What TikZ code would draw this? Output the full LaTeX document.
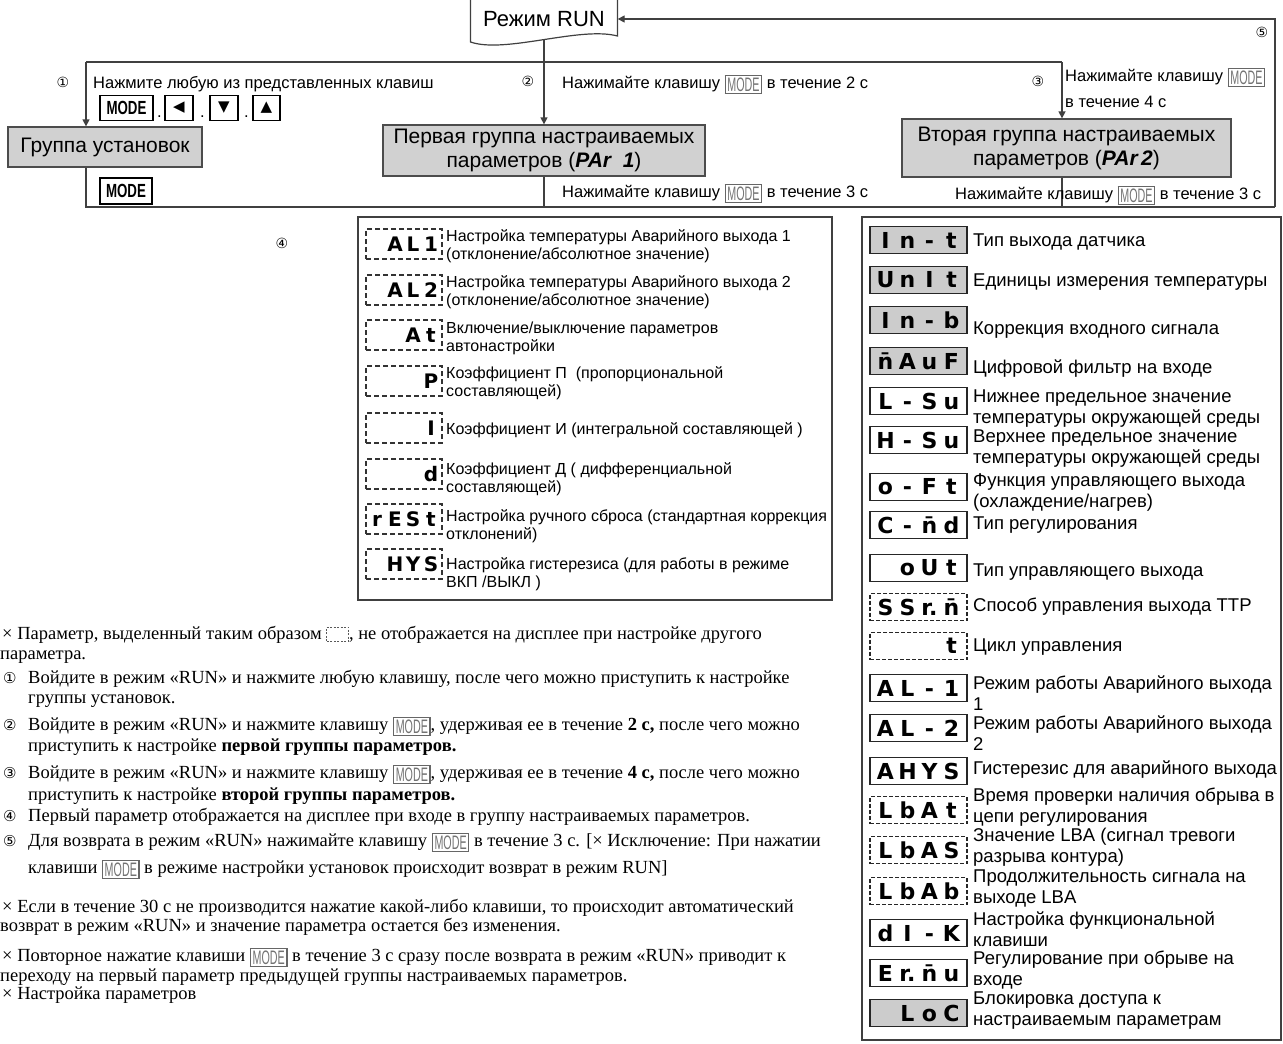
\documentclass[tikz,border=0pt]{standalone}
\usepackage{fontspec}
\usepackage{graphicx}
\usetikzlibrary{arrows.meta}
\setmainfont{Liberation Serif}
\setsansfont{Liberation Sans}
\newfontfamily\dvs{DejaVu Sans}
\newcommand\mkey{\raisebox{-3pt}{\setlength\fboxrule{1.2pt}\setlength\fboxsep{1.5pt}\fcolorbox{black!60}{white}{\sffamily\fontsize{19.5}{19.5}\selectfont\color{black!55}\scalebox{0.55}[1]{MODE}}}}
\newcommand\cnum[1]{{\dvs\fontsize{15}{15}\selectfont #1}}
\newcommand\segR[4]{{\dvs\bfseries\fontsize{22}{22}\selectfont\makebox[22pt]{#1}\makebox[22pt]{#2}\makebox[22pt]{#3}\makebox[22pt]{#4}}}
\newcommand\segL[4]{{\dvs\bfseries\fontsize{20}{20}\selectfont\makebox[18pt]{#1}\makebox[18pt]{#2}\makebox[18pt]{#3}\makebox[18pt]{#4}}}
\newcommand\dbox{\tikz[x=1pt,y=1pt,baseline=0pt]\draw[black!65,line width=0.8pt,dash pattern=on 2pt off 1.5pt](0,-2)rectangle(22,12);}
\newcommand\hang[1]{\makebox[25pt][l]{\cnum{#1}}}
\begin{document}
\begin{tikzpicture}[x=1pt,y=-1pt,
  grp/.style={draw=black!70,line width=1.3pt,fill=black!18,font=\sffamily\fontsize{21}{24}\selectfont,align=center,inner sep=0pt},
  conn/.style={draw=black!75,line width=1.4pt},
  arr/.style={conn,-{Triangle[length=7pt,width=7pt]}},
  lbl/.style={font=\sffamily\fontsize{16.5}{19}\selectfont,inner sep=0pt,anchor=base west},
  num/.style={font=\dvs\fontsize{14}{14}\selectfont,inner sep=0pt},
  keyb/.style={draw=black,line width=1.4pt,minimum height=25pt,inner sep=0pt,fill=white},
  dispR/.style={draw=black!85,line width=1.6pt,minimum width=97pt,minimum height=27pt,inner sep=0pt,fill=white},
  dispRg/.style={dispR,fill=black!20},
  dispRd/.style={dispR,line width=1.1pt,dash pattern=on 4pt off 2pt},
  dispL/.style={draw=black!80,line width=1.1pt,dash pattern=on 5pt off 3pt,minimum width=76pt,minimum height=30pt,inner sep=0pt},
  rtxt/.style={font=\sffamily\fontsize{18.5}{21}\selectfont,inner sep=0pt,anchor=west,align=left},
  ltxt/.style={font=\sffamily\fontsize{16}{18}\selectfont,inner sep=0pt,anchor=west,align=left},
  btxt/.style={font=\rmfamily\fontsize{18.5}{20}\selectfont,inner sep=0pt,anchor=base west},
  panel/.style={draw=black!75,line width=1.3pt,inner sep=0pt}
]
\useasboundingbox (0,0) rectangle (1283,1044);
\fill[white] (0,0) rectangle (1283,1044);

% ---------- top flow ----------
\node[inner sep=0pt,minimum width=147pt,minimum height=40pt,font=\sffamily\fontsize{22}{24}\selectfont] (run) at (544,19) {Режим RUN};
\draw[black!75,line width=1.2pt] (470.5,0) -- (470.5,42) .. controls (505,54) and (580,26) .. (617.5,36) -- (617.5,0);

\node[grp,minimum width=194pt,minimum height=40pt] (g) at (105,147) {Группа установок};
\node[grp,minimum width=322pt,minimum height=51pt] (p1) at (544,150.5) {Первая группа настраиваемых\\параметров (\textit{\textbf{PAr\ \ 1}})};
\node[grp,minimum width=329pt,minimum height=58pt] (p2) at (1066.5,148) {Вторая группа настраиваемых\\параметров (\textit{\textbf{PAr\,2}})};

\coordinate (tl) at (86,62);
\coordinate (tr) at (1062,62);
\coordinate (rb) at (1275,207);
\coordinate (rt) at (1275,19);

\draw[conn] (tl) -- (tr);
\draw[arr] (tl) -- (tl |- g.north);
\draw[arr] (tr) -- (tr |- p2.north);
\draw[arr] (run.south) -- (p1.north);
\draw[conn] (tl |- g.south) -- (tl |- rb) -- (rb);
\draw[conn] (p1.south) -- (p1.south |- rb);
\draw[conn] (tr |- p2.south) -- (tr |- rb);
\draw[arr] (rb) -- (rt) -- (run.east);

% labels
\node[num] (n1) at (63,82) {①};
\node[num] (n2) at (528,81) {②};
\node[num] (n3) at (1038,81) {③};
\node[num] (n5) at (1262,32) {⑤};

\node[lbl] (a1) at (93,88) {Нажмите любую из представленных клавиш};
\node[keyb,minimum width=53pt] (km) at (126.5,108) {\sffamily\bfseries\fontsize{19}{19}\selectfont\scalebox{0.7}[1]{MODE}};
\node[lbl] (d1) at (157,117) {.};
\node[keyb,minimum width=28pt] (kl) at (179,108) {\dvs\fontsize{15}{15}\selectfont ◀};
\node[lbl] (d2) at (200,117) {.};
\node[keyb,minimum width=28pt] (kd) at (224,108) {\dvs\fontsize{15}{15}\selectfont ▼};
\node[lbl] (d3) at (244,117) {.};
\node[keyb,minimum width=27pt] (ku) at (266.5,108) {\dvs\fontsize{15}{15}\selectfont ▲};
\node[keyb,minimum width=52pt,minimum height=26pt] (kmb) at (126,191) {\sffamily\bfseries\fontsize{19}{19}\selectfont\scalebox{0.7}[1]{MODE}};

\node[lbl] (a2) at (562,88) {Нажимайте клавишу \mkey\ в течение 2 с};
\node[lbl] (a3) at (562,197) {Нажимайте клавишу \mkey\ в течение 3 с};
\node[lbl] (a4) at (1065,81) {Нажимайте клавишу \mkey};
\node[lbl] (a5) at (1065,107) {в течение 4 с};
\node[lbl] (a6) at (955,199) {Нажимайте клавишу \mkey\ в течение 3 с};

% ---------- left panel (4) ----------
\node[num] (n4) at (282,243) {④};
\node[panel,minimum width=474pt,minimum height=383pt] (lp) at (595,408.5) {};
\begin{scope}
\clip (358,217) rectangle (832,600);
\node[dispL] (l1) at (404,244) {\segL{}{A}{L}{1}};
\node[ltxt] (lt1) at (446,246) {Настройка температуры Аварийного выхода 1\\(отклонение/абсолютное значение)};
\node[dispL] (l2) at (404,290) {\segL{}{A}{L}{2}};
\node[ltxt] (lt2) at (446,292) {Настройка температуры Аварийного выхода 2\\(отклонение/абсолютное значение)};
\node[dispL] (l3) at (404,335) {\segL{}{}{A}{t}};
\node[ltxt] (lt3) at (446,338.5) {Включение/выключение параметров\\автонастройки};
\node[dispL] (l4) at (404,381) {\segL{}{}{}{P}};
\node[ltxt] (lt4) at (446,383.5) {Коэффициент П\ \ (пропорциональной\\составляющей)};
\node[dispL] (l5) at (404,428) {\segL{}{}{}{I}};
\node[ltxt] (lt5) at (446,430) {Коэффициент И (интегральной составляющей )};
\node[dispL] (l6) at (404,474) {\segL{}{}{}{d}};
\node[ltxt] (lt6) at (446,479) {Коэффициент Д ( дифференциальной\\составляющей)};
\node[dispL] (l7) at (404,519) {\segL{r}{E}{S}{t}};
\node[ltxt] (lt7) at (446,526) {Настройка ручного сброса (стандартная коррекция\\отклонений)};
\node[dispL] (l8) at (404,564) {\segL{}{H}{Y}{S}};
\node[ltxt] (lt8) at (446,574) {Настройка гистерезиса (для работы в режиме\\ВКП /ВЫКЛ )};
\end{scope}

% ---------- right panel ----------
\node[panel,minimum width=419pt,minimum height=823pt] (rp) at (1071.5,628.5) {};
\node[dispRg] (r1) at (918.5,240) {\segR{I}{n}{-}{t}};
\node[rtxt] at (973,242) {Тип выхода датчика};
\node[dispRg] (r2) at (918.5,280) {\segR{U}{n}{I}{t}};
\node[rtxt] at (973,282) {Единицы измерения температуры};
\node[dispRg] (r3) at (918.5,320) {\segR{I}{n}{-}{b}};
\node[rtxt] at (973,330) {Коррекция входного сигнала};
\node[dispRg] (r4) at (918.5,361) {\segR{n̄}{A}{u}{F}};
\node[rtxt] at (973,369) {Цифровой фильтр на входе};
\node[dispR] (r5) at (918.5,401) {\segR{L}{-}{S}{u}};
\node[rtxt] at (973,408.5) {Нижнее предельное значение\\температуры окружающей среды};
\node[dispR] (r6) at (918.5,440) {\segR{H}{-}{S}{u}};
\node[rtxt] at (973,448.5) {Верхнее предельное значение\\температуры окружающей среды};
\node[dispR] (r7) at (918.5,487) {\segR{o}{-}{F}{t}};
\node[rtxt] at (973,493) {Функция управляющего выхода\\(охлаждение/нагрев)};
\node[dispR] (r8) at (918.5,525) {\segR{C}{-}{n̄}{d}};
\node[rtxt] at (973,525) {Тип регулирования};
\node[dispR] (r9) at (918.5,568) {\segR{}{o}{U}{t}};
\node[rtxt] at (973,572) {Тип управляющего выхода};
\node[dispRd] (r10) at (918.5,607) {\segR{S}{S}{r.}{n̄}};
\node[rtxt] at (973,607) {Способ управления выхода ТТР};
\node[dispRd] (r11) at (918.5,646) {\segR{}{}{}{t}};
\node[rtxt] at (973,647) {Цикл управления};
\node[dispR] (r12) at (918.5,688) {\segR{A}{L}{-}{1}};
\node[rtxt] at (973,693.5) {Режим работы Аварийного выхода\\1};
\node[dispR] (r13) at (918.5,728) {\segR{A}{L}{-}{2}};
\node[rtxt] at (973,733.5) {Режим работы Аварийного выхода\\2};
\node[dispR] (r14) at (918.5,771) {\segR{A}{H}{Y}{S}};
\node[rtxt] at (973,770) {Гистерезис для аварийного выхода};
\node[dispRd] (r15) at (918.5,810) {\segR{L}{b}{A}{t}};
\node[rtxt] at (973,807.5) {Время проверки наличия обрыва в\\цепи регулирования};
\node[dispRd] (r16) at (918.5,850) {\segR{L}{b}{A}{S}};
\node[rtxt] at (973,847.5) {Значение LBA (сигнал тревоги\\разрыва контура)};
\node[dispRd] (r17) at (918.5,891) {\segR{L}{b}{A}{b}};
\node[rtxt] at (973,888.5) {Продолжительность сигнала на\\выходе LBA};
\node[dispR] (r18) at (918.5,933) {\segR{d}{I}{-}{K}};
\node[rtxt] at (973,929) {Настройка функциональной\\клавиши};
\node[dispR] (r19) at (918.5,973) {\segR{E}{r.}{n̄}{u}};
\node[rtxt] at (973,970.5) {Регулирование при обрыве на\\входе};
\node[dispRg] (r20) at (918.5,1013) {\segR{}{L}{o}{C}};
\node[rtxt] at (973,1011) {Блокировка доступа к\\настраиваемым параметрам};

% ---------- bottom notes ----------
\node[btxt] at (2,639) {× Параметр, выделенный таким образом \dbox, не отображается на дисплее при настройке другого};
\node[btxt] at (0,659) {параметра.};
\node[btxt] at (3,683) {\hang{①}Войдите в режим «RUN» и нажмите любую клавишу, после чего можно приступить к настройке};
\node[btxt] at (28,703) {группы установок.};
\node[btxt] at (3,730) {\hang{②}Войдите в режим «RUN» и нажмите клавишу \mkey, удерживая ее в течение \textbf{2 с,} после чего можно};
\node[btxt] at (28,751) {приступить к настройке \textbf{первой группы параметров.}};
\node[btxt] at (3,778) {\hang{③}Войдите в режим «RUN» и нажмите клавишу \mkey, удерживая ее в течение \textbf{4 с,} после чего можно};
\node[btxt] at (28,800) {приступить к настройке \textbf{второй группы параметров.}};
\node[btxt] at (3,821) {\hang{④}Первый параметр отображается на дисплее при входе в группу настраиваемых параметров.};
\node[btxt] at (3,846) {\hang{⑤}Для возврата в режим «RUN» нажимайте клавишу \mkey\ в течение 3 с. [× Исключение: При нажатии};
\node[btxt] at (28,873) {клавиши \mkey\ в режиме настройки установок происходит возврат в режим RUN]};
\node[btxt] at (2,912) {× Если в течение 30 с не производится нажатие какой-либо клавиши, то происходит автоматический};
\node[btxt] at (0,931) {возврат в режим «RUN» и значение параметра остается без изменения.};
\node[btxt] at (2,961) {× Повторное нажатие клавиши \mkey\ в течение 3 с сразу после возврата в режим «RUN» приводит к};
\node[btxt] at (0,981) {переходу на первый параметр предыдущей группы настраиваемых параметров.};
\node[btxt] at (2,999) {× Настройка параметров};
\end{tikzpicture}
\end{document}
